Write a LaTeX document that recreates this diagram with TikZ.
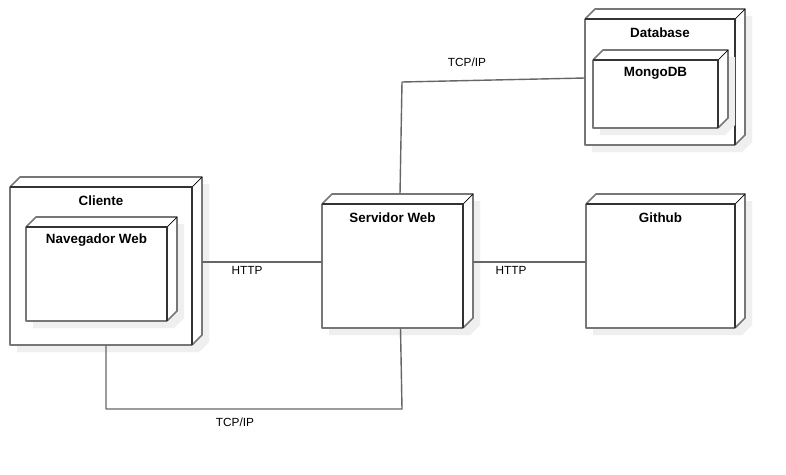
\documentclass[tikz,border=0pt]{standalone}
\usepackage{fontspec}
\setmainfont{Liberation Sans}
\definecolor{shadowc}{HTML}{EFEFEF}
\definecolor{edgegray}{HTML}{777777}
\definecolor{edgedark}{HTML}{333333}
\definecolor{conncol}{HTML}{666666}
\tikzset{
  face/.style={draw=none, inner sep=0pt, outer sep=0pt, rectangle},
  grayedge/.style={draw=edgegray, line width=1.7pt, line join=round},
  darkedge/.style={draw=edgedark, line width=1.7pt, line join=round},
  diagedge/.style={draw=black, line width=0.7pt},
  ttl/.style={font=\fontsize{13.4}{15}\selectfont\bfseries, inner sep=0pt},
  lbl/.style={font=\fontsize{11.8}{13}\selectfont, inner sep=0pt},
  conn/.style={draw=conncol, line width=1.4pt, line join=round},
}
\newcommand\umlnodebox[6]{%
  \pgfmathsetmacro\ubcx{(#2+#4)/2}%
  \pgfmathsetmacro\ubcy{(#3+#5)/2}%
  \pgfmathsetmacro\ubw{#4-#2}%
  \pgfmathsetmacro\ubh{#5-#3}%
  \node[face, minimum width=\ubw pt, minimum height=\ubh pt] (#1) at (\ubcx,\ubcy) {};
  \fill[shadowc] ([shift={(7,7)}]#1.north west) -- ([shift={(17,-3)}]#1.north west) -- ([shift={(17,-3)}]#1.north east) -- ([shift={(17,-3)}]#1.south east) -- ([shift={(7,7)}]#1.south east) -- ([shift={(7,7)}]#1.south west) -- cycle;
  \fill[white] (#1.north west) -- ([shift={(10,-10)}]#1.north west) -- ([shift={(10,-10)}]#1.north east) -- ([shift={(10,-10)}]#1.south east) -- (#1.south east) -- (#1.south west) -- cycle;
  \draw[grayedge] (#1.north west) -- ([shift={(10,-10)}]#1.north west) -- ([shift={(10,-10)}]#1.north east) -- ([shift={(10,-10)}]#1.south east) -- (#1.south east);
  \draw[diagedge] (#1.north east) -- ([shift={(10,-10)}]#1.north east);
  \draw[grayedge] (#1.north west) -- (#1.south west) -- (#1.south east);
  \draw[darkedge] (#1.north west) -- (#1.north east) -- (#1.south east);
  \node[ttl] (#1t) at ([yshift=-13.5pt]#1.north) {#6};
}
\begin{document}
\begin{tikzpicture}[x=1pt, y=-1pt]
\fill[white] (0,0) rectangle (786,474);
\useasboundingbox (0,0) rectangle (786,474);
\umlnodebox{cli}{10}{187}{192}{345}{Cliente}
\umlnodebox{nav}{26}{227}{167}{321}{Navegador Web}
\umlnodebox{db}{585}{19}{735}{145}{Database}
\umlnodebox{mongo}{593}{60}{718}{128}{MongoDB}
\umlnodebox{srv}{322}{204}{463}{328}{Servidor Web}
\umlnodebox{gh}{586}{204}{735}{328}{Github}
% connectors
\draw[conn] ([shift={(10,-4)}]cli.east) -- ([yshift=4pt]srv.west);
\draw[conn] ([shift={(10,-4)}]srv.east) -- ([yshift=4pt]gh.west);
\draw[conn] ([shift={(7.5,-10)}]srv.north) -- ++(2,-112) -- ([yshift=4pt]db.west);
\draw[conn] ([xshift=5pt]cli.south) -- ++(0,64) -- ++(296,0) -- ([xshift=8pt]srv.south);
% labels
\node[lbl] (l1) at (247,270) {HTTP};
\node[lbl] (l2) at (511,270) {HTTP};
\node[lbl] (l3) at (467,62) {TCP/IP};
\node[lbl] (l4) at (235,422) {TCP/IP};
\end{tikzpicture}
\end{document}
